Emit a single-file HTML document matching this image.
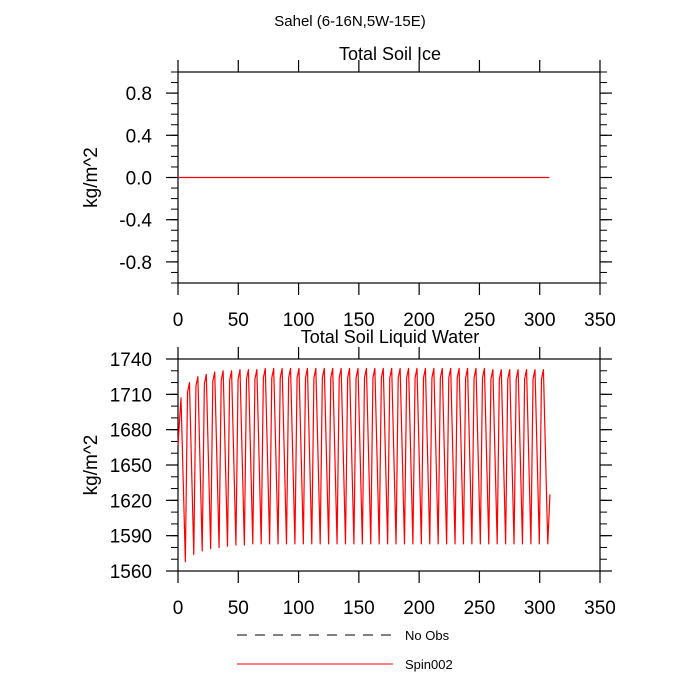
<!DOCTYPE html>
<html><head><meta charset="utf-8">
<style>
body{margin:0;background:#fff;}
svg{display:block;font-family:"Liberation Sans",sans-serif;}
</style></head>
<body>
<svg id="c" width="700" height="700" viewBox="0 0 700 700">
<text x="350" y="26" font-size="15" text-anchor="middle">Sahel (6-16N,5W-15E)</text>
<g id="p1"></g>
<g id="p2"></g>
<g>
<line x1="237" y1="635" x2="393" y2="635" stroke="#000" stroke-width="1" stroke-dasharray="10,8"/>
<text x="405" y="640" font-size="13">No Obs</text>
<line x1="237" y1="664" x2="393" y2="664" stroke="#f00" stroke-width="1"/>
<text x="405" y="669" font-size="13">Spin002</text>
</g>
</svg>
<script>
const xTicks=[0,50,100,150,200,250,300,350];
const iceTicks=[-0.8,-0.4,0.0,0.4,0.8];
const iceTickLabels=["-0.8","-0.4","0.0","0.4","0.8"];
const iceX=[0,308];
const iceY=[0,0];
const waterTicks=[1560,1590,1620,1650,1680,1710,1740];
const waterStart=1667;
const waterEnd=1625;
const waterPeaks=[1707,1720,1725,1727,1729,1730,1730,1731,1731,1731,1732,1732,1732,1732,1732,1732,1732,1732,1732,1732,1732,1732,1732,1732,1732,1732,1732,1732,1732,1732,1732,1732,1732,1732,1732,1732,1732,1731,1731,1731,1731,1731,1731,1731];
const waterTroughs=[1568,1574,1577,1579,1580,1581,1582,1582,1583,1583,1583,1583,1583,1583,1583,1583,1583,1583,1583,1583,1583,1583,1583,1583,1583,1583,1583,1583,1583,1583,1583,1583,1583,1583,1583,1583,1583,1583,1583,1583,1583,1583,1583,1583];
const period=6.99, firstPeak=2.5, troughOffset=3.6, shoulderDrop=8;

const NS="http://www.w3.org/2000/svg";
function mk(p,tag,attrs){const e=document.createElementNS(NS,tag);for(const k in attrs)e.setAttribute(k,attrs[k]);p.appendChild(e);return e;}
const L=178,R=600;
const sx=v=>L+(v-0)/(350-0)*(R-L);

function panel(g,top,bot,ymin,ymax,majors,labels,minorStep,title,titleY){
  const sy=v=>bot-(v-ymin)/(ymax-ymin)*(bot-top);
  const f=mk(g,'rect',{x:L,y:top,width:R-L,height:bot-top,fill:'none',stroke:'#000','stroke-width':1.2});
  
  
  const t=mk(g,'text',{x:390,y:titleY,'font-size':18,'text-anchor':'middle'});t.textContent=title;
  
  
  const yt=mk(g,'text',{x:0,y:0,'font-size':19,'text-anchor':'middle',transform:`translate(97,${(top+bot)/2}) rotate(-90)`});yt.textContent='kg/m^2';
  
  
  xTicks.forEach(v=>{
    const x=sx(v);
    mk(g,'line',{x1:x,y1:bot,x2:x,y2:bot+12,stroke:'#000','stroke-width':1.2});
    mk(g,'line',{x1:x,y1:top,x2:x,y2:top-12,stroke:'#000','stroke-width':1.2});
    const tx=mk(g,'text',{x:x,y:bot+43,'font-size':19,'text-anchor':'middle'});tx.textContent=v;
    
    
  });
  const n=Math.round((ymax-ymin)/minorStep);
  for(let i=0;i<=n;i++){const y=sy(ymin+i*minorStep);
    mk(g,'line',{x1:L,y1:y,x2:L-7,y2:y,stroke:'#000','stroke-width':1});
    mk(g,'line',{x1:R,y1:y,x2:R+7,y2:y,stroke:'#000','stroke-width':1});}
  majors.forEach((v,i)=>{const y=sy(v);
    mk(g,'line',{x1:L,y1:y,x2:L-12,y2:y,stroke:'#000','stroke-width':1.2});
    mk(g,'line',{x1:R,y1:y,x2:R+12,y2:y,stroke:'#000','stroke-width':1.2});
    const tx=mk(g,'text',{x:L-26,y:y+7,'font-size':19,'text-anchor':'end'});tx.textContent=labels[i];
    
    });
  return sy;
}
const g1=document.getElementById('p1'),g2=document.getElementById('p2');
const sy1=panel(g1,72,283,-1,1,iceTicks,iceTickLabels,0.1,'Total Soil Ice',60);
const l1=mk(g1,'polyline',{points:iceX.map((x,i)=>sx(x)+','+sy1(iceY[i])).join(' '),fill:'none',stroke:'#f00','stroke-width':1.2});


const sy2=panel(g2,359,571,1560,1740,waterTicks,waterTicks.map(String),10,'Total Soil Liquid Water',343);
const pts=[[0,waterStart]];
waterPeaks.forEach((p,i)=>{const xp=firstPeak+i*period;
  if(i>0)pts.push([xp-1.6,p-shoulderDrop]);
  pts.push([xp,p]);
  const xt=xp+troughOffset; if(xt<=308.5)pts.push([xt,waterTroughs[i]]);});
pts.push([308.5,waterEnd]);
const l2=mk(g2,'polyline',{points:pts.map(p=>sx(p[0]).toFixed(2)+','+sy2(p[1]).toFixed(2)).join(' '),fill:'none',stroke:'#f00','stroke-width':1.2,'stroke-linejoin':'round'});


</script>
</body></html>
